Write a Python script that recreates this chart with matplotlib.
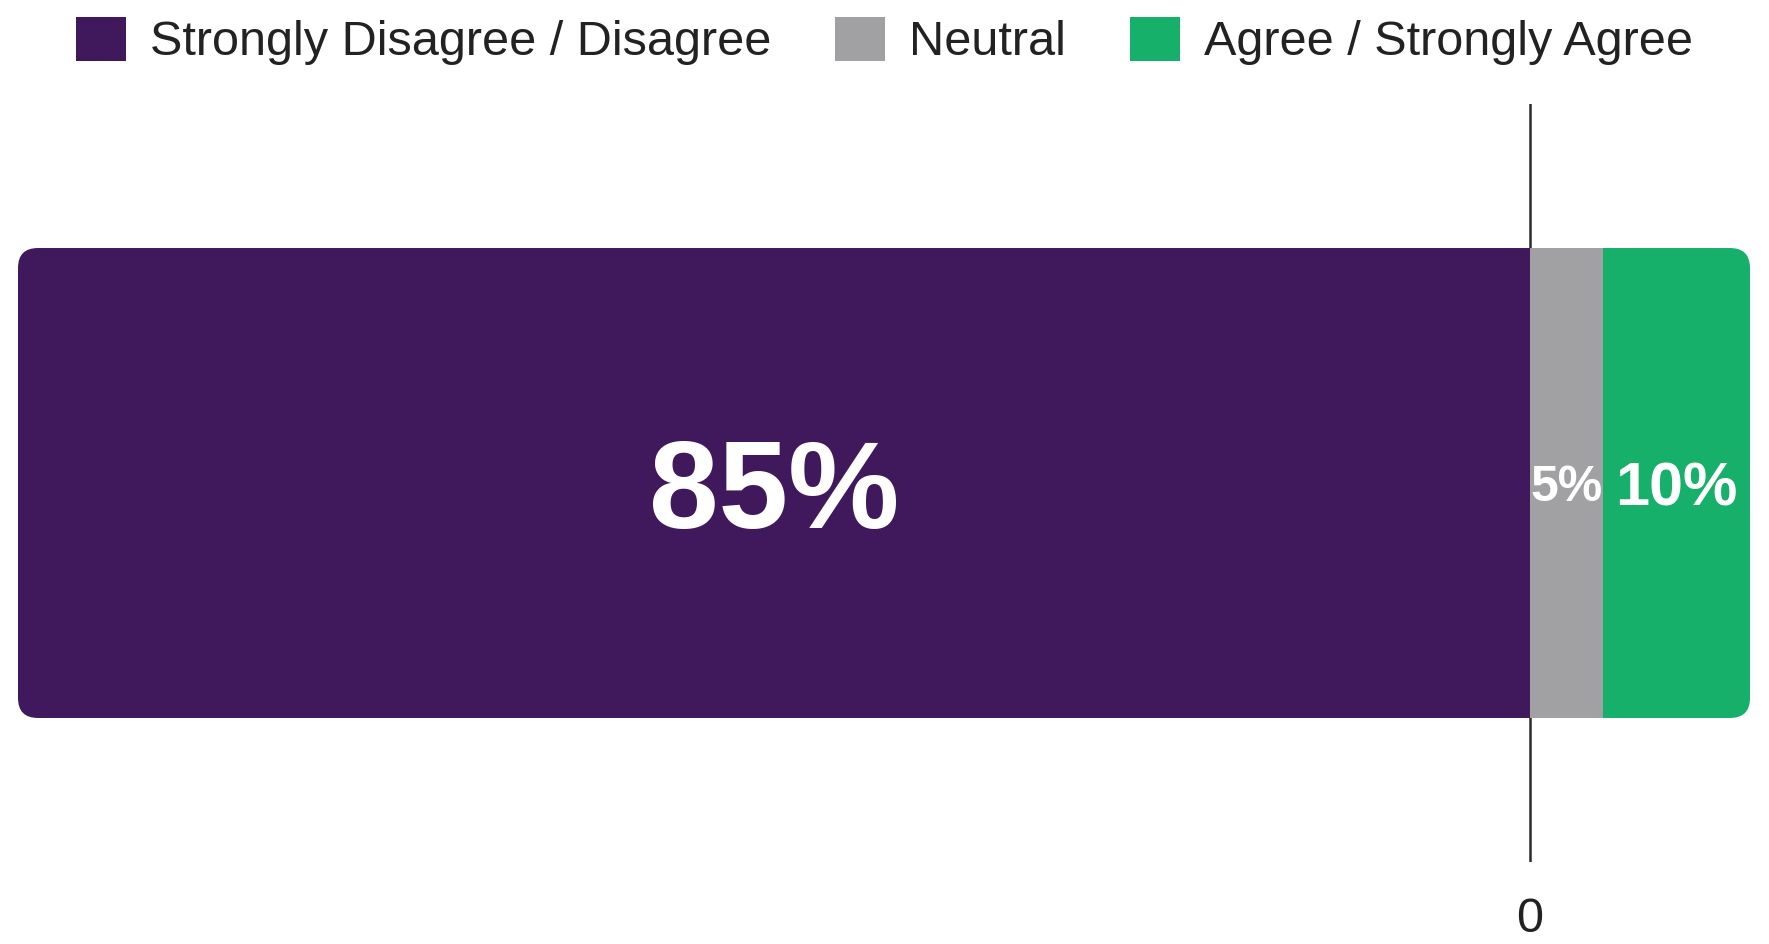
import matplotlib.pyplot as plt
import numpy as np
from matplotlib.patches import Patch, FancyBboxPatch

plt.rcParams['font.family'] = ['Liberation Sans', 'DejaVu Sans']

categories = ['Strongly Disagree / Disagree', 'Neutral', 'Agree / Strongly Agree']
values = [85, 5, 10]
labels = ['85%', '5%', '10%']
colors = ['#40185C', '#A1A1A3', '#17B06A']
label_sizes = [90, 36, 44]

W, H = 1769, 944
fig = plt.figure(figsize=(W / 100, H / 100), dpi=100)
ax = fig.add_axes([18 / W, 82 / H, 1732 / W, 758 / H])

# the left side is drawn a bit wider than the right one in the original
k = 17.79 / 14.67
ax.set_xscale('function', functions=(lambda x: np.where(x < 0, x * k, x),
                                     lambda x: np.where(x < 0, x / k, x)))
ax.set_xlim(-values[0], values[1] + values[2])
ax.set_ylim(-0.5, 0.5)

lefts = [-values[0], 0, values[1]]
bh = 0.62
bars = ax.barh(0, values, left=lefts, height=bh, color=colors, zorder=2)

# centre the digits (not the text box) on the bar
for l, v, t, s in zip(lefts, values, labels, label_sizes):
    ax.annotate(t, (l + v / 2, 0), xytext=(0, -0.36 * s), textcoords='offset points',
                ha='center', va='baseline', color='white',
                fontsize=s, fontweight='bold', zorder=3)

ax.axvline(0, color='#2b2b2b', lw=1.8, zorder=1)

# rounded ends of the whole bar
tr = ax.transData + fig.dpi_scale_trans.inverted()
x0, y0 = tr.transform((lefts[0], -bh / 2))
x1, y1 = tr.transform((lefts[-1] + values[-1], bh / 2))
clip = FancyBboxPatch((x0, y0), x1 - x0, y1 - y0,
                      boxstyle='round,pad=0,rounding_size=0.2',
                      transform=fig.dpi_scale_trans, facecolor='none', edgecolor='none')
for b in bars:
    b.set_clip_path(clip)

ax.set_xticks([0])
ax.set_xticklabels(['0'])
ax.tick_params(axis='x', length=0, pad=25, labelsize=35, labelcolor='#222222')
ax.set_yticks([])
for sp in ax.spines.values():
    sp.set_visible(False)

handles = [Patch(facecolor=c, edgecolor='none') for c in colors]
fig.legend(handles, categories, loc='center', bbox_to_anchor=(0.5, 1 - 41 / H), ncol=3,
           frameon=False, fontsize=35, handlelength=1.03, handleheight=1.03,
           handletextpad=0.5, columnspacing=1.3, labelcolor='#222222')

fig.savefig('out.png', dpi=100, facecolor='white')
